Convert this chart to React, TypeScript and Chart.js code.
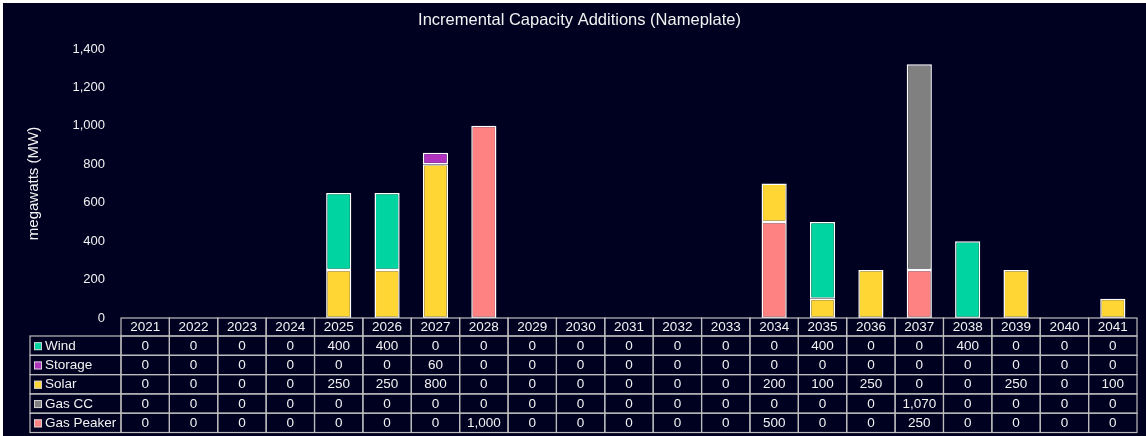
import React, { useEffect, useRef } from 'react';
import { Chart, registerables } from 'chart.js';

Chart.register(...registerables);

const years = ['2021', '2022', '2023', '2024', '2025', '2026', '2027', '2028', '2029', '2030', '2031', '2032', '2033', '2034', '2035', '2036', '2037', '2038', '2039', '2040', '2041'];

const wind = [0, 0, 0, 0, 400, 400, 0, 0, 0, 0, 0, 0, 0, 0, 400, 0, 0, 400, 0, 0, 0];
const storage = [0, 0, 0, 0, 0, 0, 60, 0, 0, 0, 0, 0, 0, 0, 0, 0, 0, 0, 0, 0, 0];
const solar = [0, 0, 0, 0, 250, 250, 800, 0, 0, 0, 0, 0, 0, 200, 100, 250, 0, 0, 250, 0, 100];
const gasCC = [0, 0, 0, 0, 0, 0, 0, 0, 0, 0, 0, 0, 0, 0, 0, 0, 1070, 0, 0, 0, 0];
const gasPeaker = [0, 0, 0, 0, 0, 0, 0, 1000, 0, 0, 0, 0, 0, 500, 0, 0, 250, 0, 0, 0, 0];

const yTicks = [0, 200, 400, 600, 800, 1000, 1200, 1400];

const TITLE = 'Incremental Capacity Additions (Nameplate)';
const FONT = '"Liberation Sans", Arial, Helvetica, sans-serif';
const BG = '#000020';
const TEXT = '#f2f2f2';

// stacking order: bottom to top
const series = [
  { name: 'Gas Peaker', data: gasPeaker, color: '#ff8282' },
  { name: 'Gas CC', data: gasCC, color: '#808080' },
  { name: 'Solar', data: solar, color: '#ffd633' },
  { name: 'Storage', data: storage, color: '#b033c0' },
  { name: 'Wind', data: wind, color: '#00d4a0' },
];

const fmt = (v: number) => v.toLocaleString('en-US');

const bgPlugin = {
  id: 'bg',
  beforeDraw(chart: any) {
    const { ctx, width, height } = chart;
    ctx.save();
    ctx.fillStyle = BG;
    ctx.fillRect(0, 0, width, height);
    ctx.restore();
  },
};

const titlePlugin = {
  id: 'centerTitle',
  afterDraw(chart: any) {
    const { ctx, width } = chart;
    ctx.save();
    ctx.font = `16.5px ${FONT}`;
    ctx.fillStyle = TEXT;
    ctx.textAlign = 'center';
    ctx.textBaseline = 'middle';
    ctx.fillText(TITLE, width / 2 + 5, 17.5);
    ctx.restore();
  },
};

const tablePlugin = {
  id: 'dataTable',
  afterDraw(chart: any) {
    const { ctx, chartArea } = chart;
    const xs = chart.scales.x;
    const n = years.length;
    const colW = (chartArea.right - chartArea.left) / n;
    const headerH = 18;
    const rowH = 19.3;
    const top = chartArea.bottom;
    const labelLeft = 27;
    const lineColor = '#bdbdbd';
    ctx.save();
    ctx.strokeStyle = lineColor;
    ctx.lineWidth = 1.2;
    ctx.font = `13.5px ${FONT}`;
    ctx.fillStyle = TEXT;
    ctx.textBaseline = 'middle';
    ctx.textAlign = 'center';
    years.forEach((y, i) => {
      const cx = xs.getPixelForValue(i);
      ctx.strokeRect(cx - colW / 2, top, colW, headerH);
      ctx.fillText(y, cx, top + headerH / 2 + 0.5);
    });
    const rows = [...series].reverse();
    rows.forEach((s, r) => {
      const y0 = top + headerH + r * rowH;
      const cy = y0 + rowH / 2 + 0.5;
      ctx.strokeStyle = lineColor;
      ctx.lineWidth = 1.2;
      ctx.strokeRect(labelLeft, y0, chartArea.left - labelLeft, rowH);
      // legend swatch
      ctx.fillStyle = s.color;
      ctx.fillRect(labelLeft + 4, cy - 4, 8, 8);
      ctx.strokeStyle = '#d0d0d0';
      ctx.lineWidth = 1;
      ctx.strokeRect(labelLeft + 4.5, cy - 3.5, 7, 7);
      ctx.fillStyle = TEXT;
      ctx.textAlign = 'left';
      ctx.fillText(s.name, labelLeft + 15, cy);
      ctx.textAlign = 'center';
      ctx.strokeStyle = lineColor;
      ctx.lineWidth = 1.2;
      s.data.forEach((v, i) => {
        const cx = xs.getPixelForValue(i);
        ctx.strokeRect(cx - colW / 2, y0, colW, rowH);
        ctx.fillText(fmt(v), cx, cy);
      });
    });
    ctx.restore();
  },
};

export default function App() {
  const ref = useRef<HTMLCanvasElement | null>(null);

  useEffect(() => {
    document.body.style.margin = '0';
    const canvas = ref.current;
    if (!canvas) return;
    const chart = new Chart(canvas, {
      type: 'bar',
      data: {
        labels: years,
        datasets: series.map((s) => ({
          label: s.name,
          data: s.data,
          backgroundColor: s.color,
          borderColor: '#ffffff',
          borderWidth: 1.5,
          borderSkipped: false,
          barPercentage: 0.52,
          categoryPercentage: 1,
        })),
      },
      plugins: [bgPlugin, tablePlugin, titlePlugin],
      options: {
        animation: false,
        responsive: false,
        maintainAspectRatio: false,
        layout: { padding: { left: 0, right: 9, top: 46, bottom: 118 } },
        plugins: {
          legend: { display: false },
          tooltip: { enabled: false },
          title: { display: false },
        },
        scales: {
          x: {
            stacked: true,
            display: false,
          },
          y: {
            stacked: true,
            min: 0,
            max: 1400,
            afterBuildTicks(scale: any) {
              scale.ticks = yTicks.map((v) => ({ value: v }));
            },
            afterFit(scale: any) {
              scale.width = 118;
            },
            ticks: {
              color: TEXT,
              font: { family: FONT, size: 13 },
              padding: 16,
              callback: (v: any) => fmt(Number(v)),
            },
            grid: { display: false, drawTicks: false },
            border: { display: false },
            title: {
              display: true,
              text: 'megawatts (MW)',
              color: TEXT,
              font: { family: FONT, size: 15 },
              padding: { top: 22, bottom: 0 },
            },
          },
        },
      },
    } as any);
    return () => chart.destroy();
  }, []);

  return (
    <div style={{ paddingLeft: 3, paddingTop: 3, background: '#ffffff', width: 1143, height: 433 }}>
      <canvas ref={ref} width={1143} height={433} style={{ display: 'block', width: 1143, height: 433 }} />
    </div>
  );
}
